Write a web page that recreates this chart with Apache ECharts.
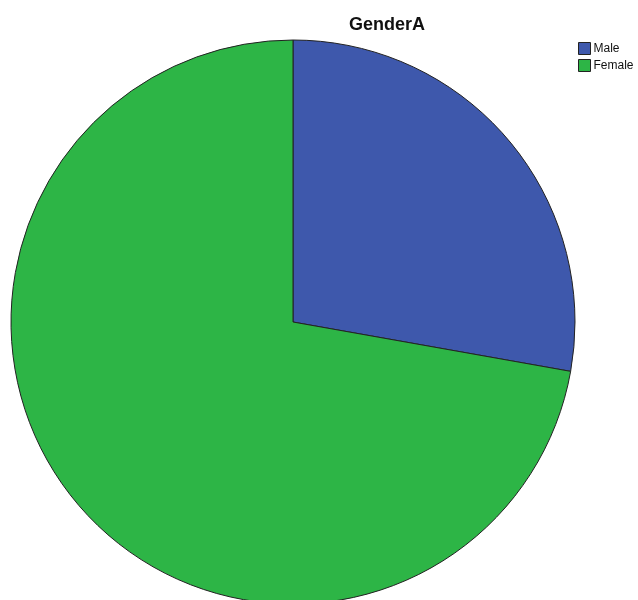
<!DOCTYPE html>
<html>
<head>
<meta charset="utf-8">
<script src="https://cdn.jsdelivr.net/npm/echarts@6/dist/echarts.min.js"></script>
<style>
	html, body { margin: 0; padding: 0; background: #fff; }
	#chart { width: 638px; height: 600px; }
</style>
</head>
<body>
<div id="chart"></div>
<script>
var categories = ['Male', 'Female'];
var percentValues = [27.8, 72.2];
var sliceColors = ['#3e58ac', '#2db546'];

var genderChart = {
	/**
	 * 显示图表
	 */
	showChart : function() {
		var myChart = echarts.init(document.getElementById('chart'));
		var pieData = [];
		for (var i = 0; i < categories.length; i++) {
			pieData.push({
				name: categories[i],
				value: percentValues[i],
				itemStyle: { color: sliceColors[i] }
			});
		}
		var option = {
			animation: false,
			title: {
				text: 'GenderA',
				left: 344,
				top: 11,
				textStyle: {
					fontFamily: 'Liberation Sans, Arial, sans-serif',
					fontSize: 18,
					fontWeight: 'bold',
					color: '#111'
				}
			},
			legend: {
				orient: 'vertical',
				left: 573,
				top: 37,
				itemWidth: 12,
				itemHeight: 12,
				itemGap: 4,
				icon: 'rect',
				data: categories,
				itemStyle: { borderColor: '#222', borderWidth: 1 },
				textStyle: {
					fontFamily: 'Liberation Sans, Arial, sans-serif',
					fontSize: 12,
					lineHeight: 12,
					color: '#111',
					padding: [0, 0, 0, -2]
				}
			},
			series: [
				{
					type: 'pie',
					center: [293, 322],
					radius: 282,
					startAngle: 90,
					clockwise: true,
					label: { show: false },
					labelLine: { show: false },
					emphasis: { disabled: true },
					itemStyle: { borderColor: '#222', borderWidth: 1 },
					data: pieData
				}
			]
		};
		// 显示图表。
		myChart.setOption(option);
	}
};

genderChart.showChart();
</script>
</body>
</html>
